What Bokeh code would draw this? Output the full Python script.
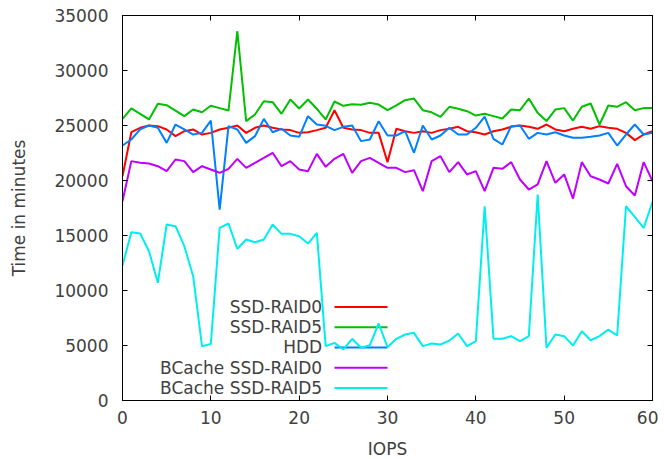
from bokeh.plotting import figure
from bokeh.models import Range1d, LinearAxis, Label, CustomJSTickFormatter, FixedTicker, ColumnDataSource
from bokeh.embed import file_html
from bokeh.resources import INLINE

# ---------------- data ----------------
iops = list(range(61))

ssd_raid0 = [20390, 24390, 24790, 25000, 24940, 24640, 24030, 24480, 24640, 24180,
             24330, 24640, 24790, 25000, 24330, 24790, 25000, 24790, 24640, 24580,
             24330, 24390, 24580, 24790, 26390, 24790, 24640, 24580, 24330, 24330,
             21670, 24700, 24480, 24330, 24480, 24330, 24580, 24700, 24880, 24480,
             24390, 24180, 24480, 24640, 24880, 25000, 24880, 24700, 25090, 24640,
             24480, 24700, 24880, 24700, 24940, 24790, 24700, 24330, 23670, 24180, 24480]

ssd_raid5 = [25600, 26550, 26060, 25550, 26970, 26850, 26360, 25850, 26450, 26200,
             26800, 26580, 26360, 33570, 25400, 26000, 27200, 27120, 26060, 27360,
             26550, 27360, 26520, 25550, 27180, 26790, 26940, 26880, 27060, 26900,
             26390, 26820, 27300, 27450, 26390, 26200, 25790, 26700, 26520, 26300,
             25900, 26060, 25850, 25640, 26450, 26390, 27450, 26150, 25400, 26450,
             26580, 25450, 26700, 27000, 25090, 26820, 26700, 27120, 26390, 26580, 26580]

hdd = [23180, 23730, 24640, 25000, 24790, 23420, 25090, 24640, 24180, 24330,
       25450, 17360, 24940, 24640, 23420, 24030, 25600, 24390, 24700, 24090,
       23970, 25850, 25090, 24970, 24580, 24880, 25000, 23580, 23730, 25390,
       24090, 24090, 24480, 22520, 25000, 23730, 24090, 24790, 24180, 24180,
       24790, 25800, 23790, 23270, 24940, 25000, 23790, 24330, 24180, 24390,
       24090, 23880, 23880, 23970, 24090, 24330, 23180, 24180, 25090, 24180, 24330]

bcache_raid0 = [18120, 21760, 21610, 21550, 21300, 20850, 21910, 21760, 20760, 21300,
                21000, 20700, 21060, 21970, 21150, 21610, 22060, 22520, 21300, 21760,
                21000, 20850, 22420, 21240, 21970, 22420, 20700, 21760, 22060, 21610,
                21150, 21150, 20760, 20940, 19030, 21760, 22210, 20760, 21670, 20550,
                20850, 19030, 21150, 21060, 21670, 20090, 19180, 19640, 21760, 19790,
                20550, 18360, 21670, 20390, 20090, 19730, 21510, 19480, 18640, 21670, 19940]

bcache_raid5 = [12270, 15300, 15180, 13570, 10700, 16000, 15850, 14030, 11300, 4940,
                5150, 15700, 16090, 13790, 14640, 14390, 14640, 16000, 15150, 15150,
                14940, 14270, 15240, 4940, 5240, 4640, 5610, 4790, 5030, 7000,
                4850, 5610, 6000, 6150, 4940, 5180, 5090, 5450, 6090, 4940,
                5390, 17660, 5610, 5610, 5850, 5390, 5850, 18730, 4790, 6000,
                5850, 5000, 6300, 5480, 5850, 6450, 5910, 17660, 16700, 15700, 18030]

series_names = ["SSD-RAID0", "SSD-RAID5", "HDD", "BCache SSD-RAID0", "BCache SSD-RAID5"]
series_values = [ssd_raid0, ssd_raid5, hdd, bcache_raid0, bcache_raid5]

x_ticks = [0, 10, 20, 30, 40, 50, 60]
y_ticks = [0, 5000, 10000, 15000, 20000, 25000, 30000, 35000]
x_label = "IOPS"
y_label = "Time in minutes"

# ---------------- style ----------------
colors = ["#ff0000", "#00c000", "#0080ff", "#c000ff", "#00eeee"]
FONT = "DejaVu Sans"
FSIZE = "17px"
TCOLOR = "#404040"

# legend layout (data coordinates of key block)
LEG_TEXT_X = 22.6
LEG_LINE_X0 = 24.0
LEG_LINE_X1 = 30.0
LEG_Y0 = 8500
LEG_DY = 1840

p = figure(frame_width=530, frame_height=385,
           min_border_left=122, min_border_right=6,
           min_border_top=15, min_border_bottom=50,
           x_range=Range1d(0, 60), y_range=Range1d(0, 35000),
           output_backend="svg", toolbar_location=None)

p.grid.visible = False
p.background_fill_color = "white"
p.outline_line_color = "black"
p.outline_line_width = 1

for ax, ticks in ((p.xaxis[0], x_ticks), (p.yaxis[0], y_ticks)):
    ax.ticker = FixedTicker(ticks=ticks)
    ax.major_tick_in = 5
    ax.major_tick_out = 0
    ax.minor_tick_in = 0
    ax.minor_tick_out = 0
    ax.axis_line_color = "black"
    ax.major_tick_line_color = "black"
    ax.major_label_text_font = FONT
    ax.major_label_text_font_size = FSIZE
    ax.major_label_text_color = TCOLOR
    ax.axis_label_text_font = FONT
    ax.axis_label_text_font_size = FSIZE
    ax.axis_label_text_color = TCOLOR
    ax.axis_label_text_font_style = "normal"

p.xaxis.axis_label = x_label
p.yaxis.axis_label = y_label
p.xaxis.major_label_standoff = 10
p.xaxis.axis_label_standoff = 12
p.yaxis.major_label_standoff = 14
p.yaxis.axis_label_standoff = 22

# mirror axes (ticks only)
for loc, ticks in (("above", x_ticks), ("right", y_ticks)):
    ax = LinearAxis(ticker=FixedTicker(ticks=ticks),
                    formatter=CustomJSTickFormatter(code="return ''"),
                    major_label_text_font_size="1px",
                    major_label_standoff=0,
                    major_tick_in=5, major_tick_out=0,
                    minor_tick_in=0, minor_tick_out=0,
                    axis_line_color="black", major_tick_line_color="black")
    p.add_layout(ax, loc)

for i, (name, vals, col) in enumerate(zip(series_names, series_values, colors)):
    ly = LEG_Y0 - i * LEG_DY
    src = ColumnDataSource(dict(x0=[LEG_LINE_X0], x1=[LEG_LINE_X1], y0=[ly], y1=[ly]))
    p.segment(x0="x0", y0="y0", x1="x1", y1="y1", source=src, line_color=col, line_width=2)
    p.add_layout(Label(x=LEG_TEXT_X, y=ly, text=name, text_align="right",
                       text_baseline="middle", text_font=FONT, text_font_size=FSIZE,
                       text_color=TCOLOR))
    p.line(iops, vals, line_color=col, line_width=2)

open("out.html", "w").write(file_html(p, INLINE))
